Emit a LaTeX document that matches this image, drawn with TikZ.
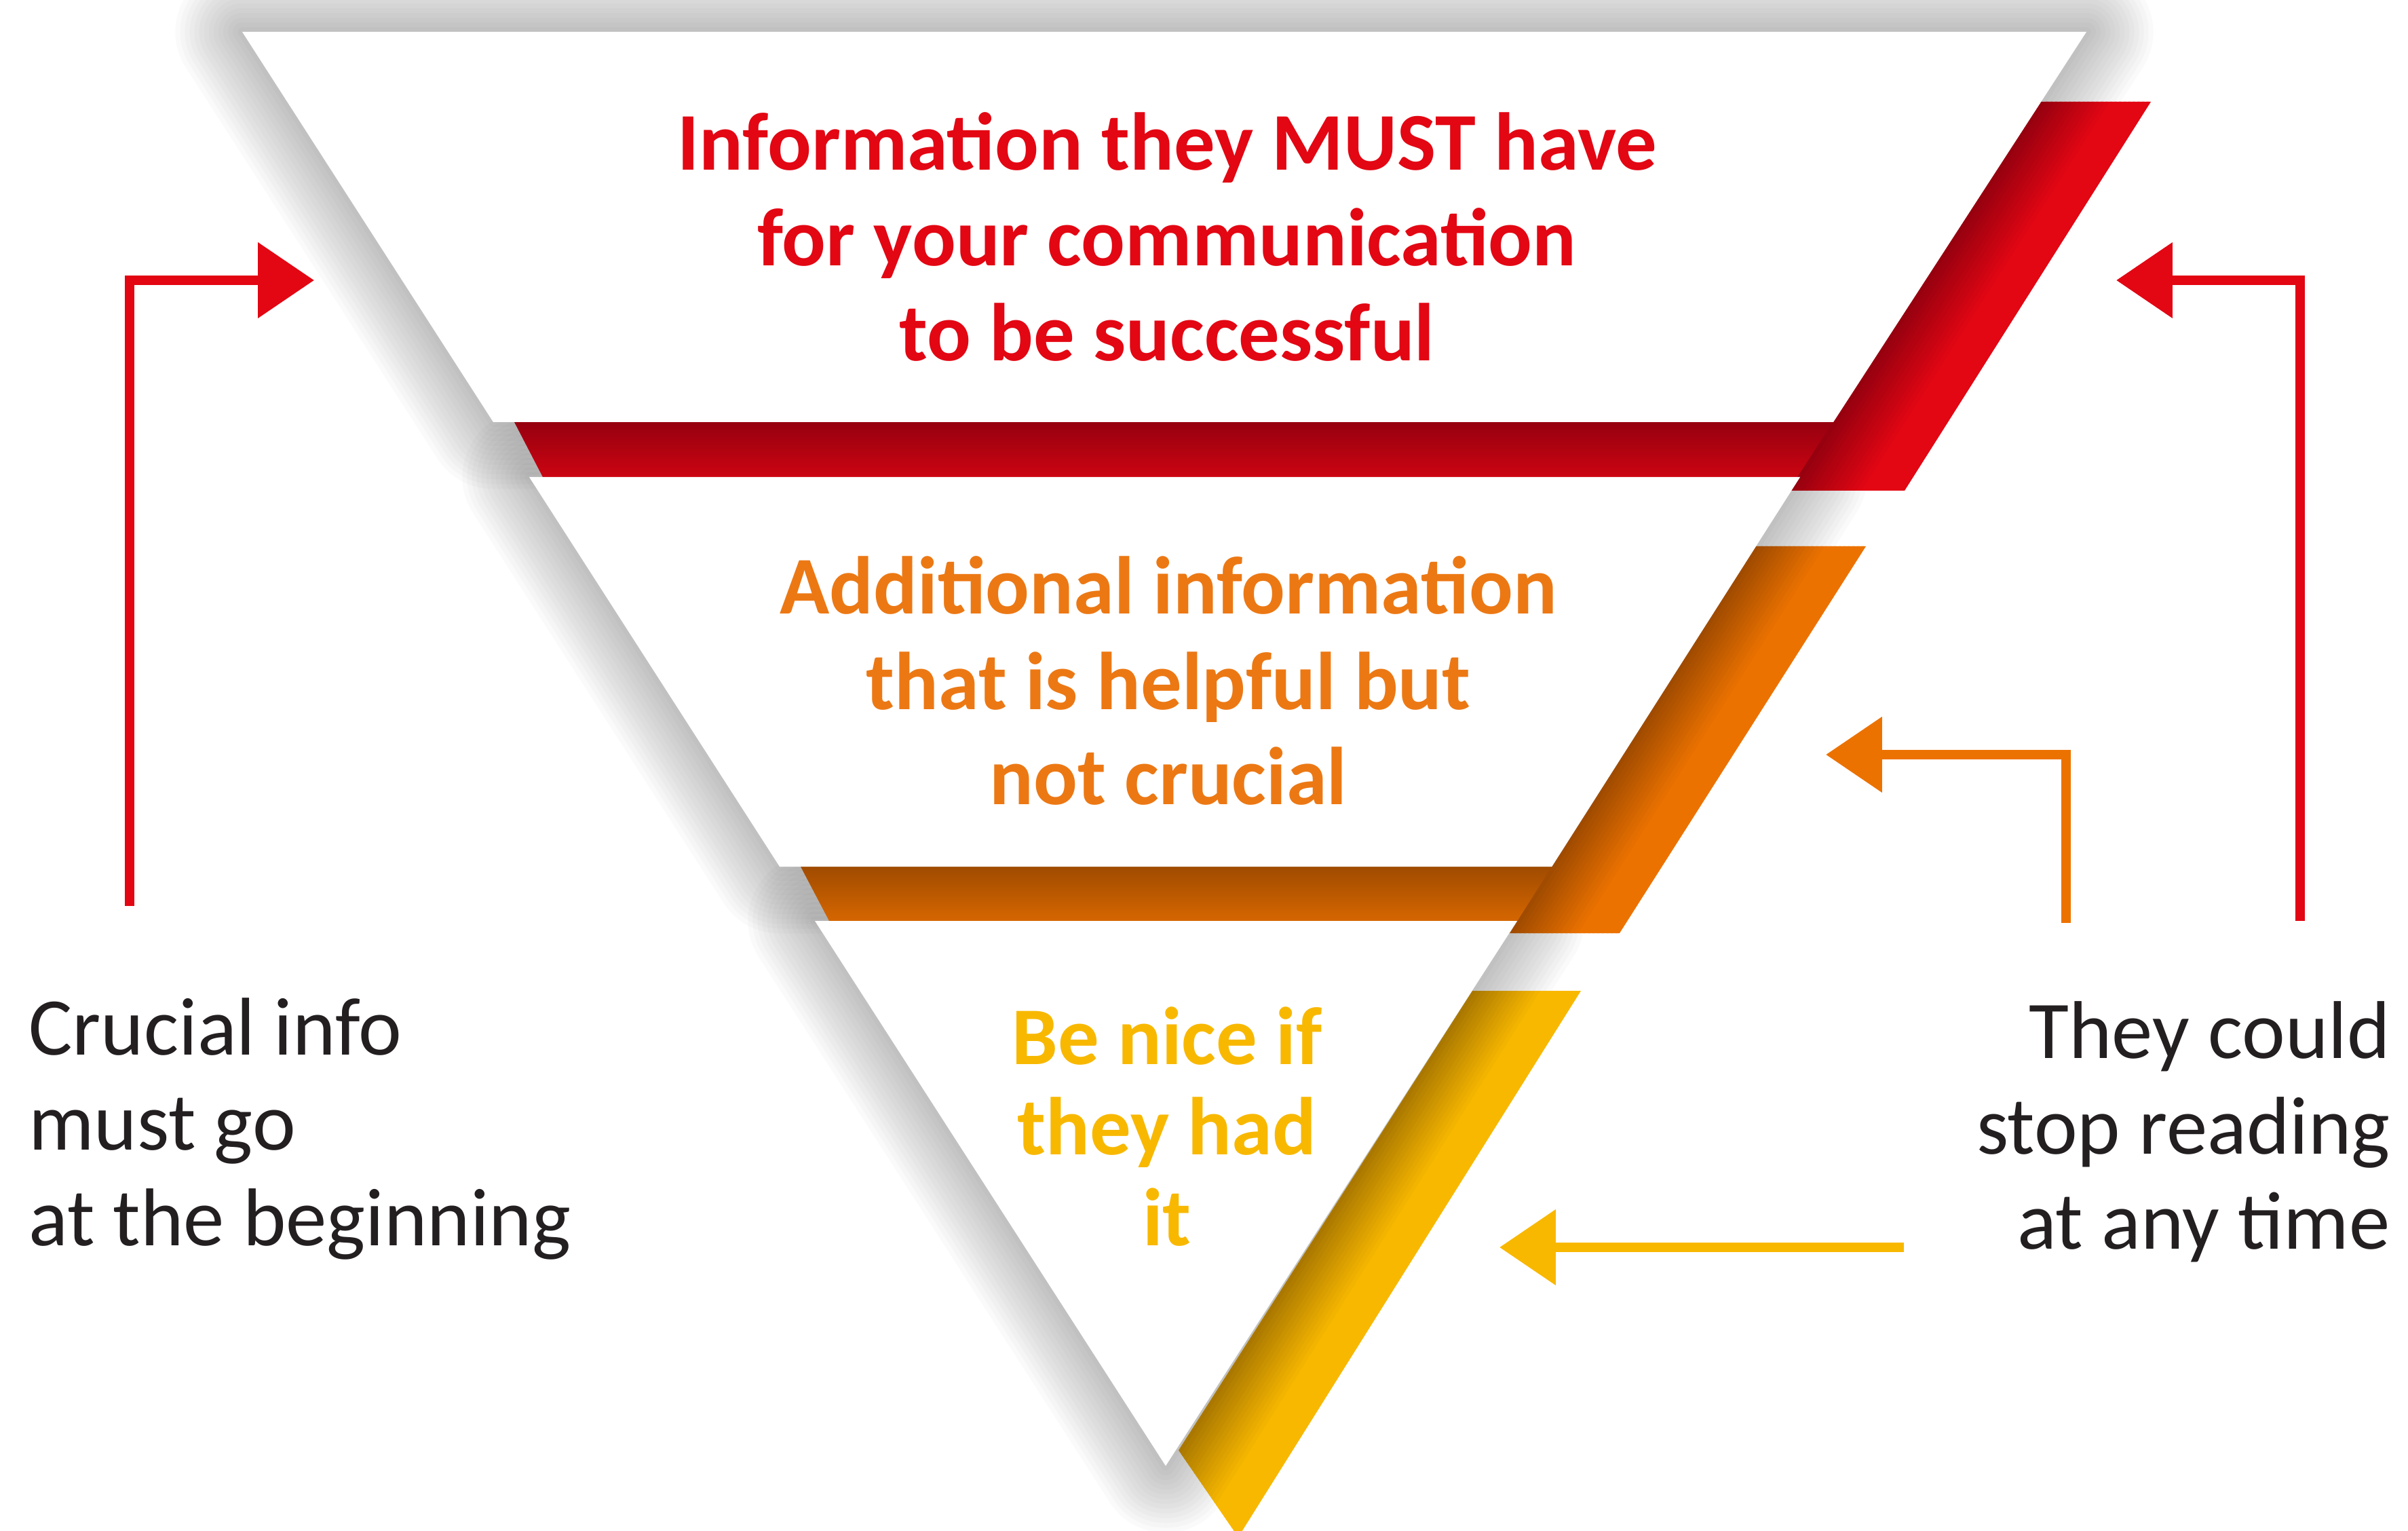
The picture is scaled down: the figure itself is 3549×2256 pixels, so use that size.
\documentclass[tikz,border=0pt]{standalone}
\usepackage{fontspec}
\setmainfont{Carlito}
\usetikzlibrary{arrows.meta,calc}

\definecolor{mustred}{RGB}{227,6,19}
\definecolor{mustdark}{RGB}{150,0,15}
\definecolor{helporange}{RGB}{236,114,0}
\definecolor{helpdark}{RGB}{160,75,0}
\definecolor{helptext}{RGB}{236,120,20}
\definecolor{niceyellow}{RGB}{248,184,0}
\definecolor{nicedark}{RGB}{170,120,0}
\definecolor{labelgray}{RGB}{35,31,32}

\tikzset{
  panel/.style={fill=white},
  glow/.style={black, opacity=0.018, line join=round},
  bandtext/.style={font=\bfseries\fontsize{17.2}{20}\selectfont, align=center, inner sep=0pt},
  sidetext/.style={font=\fontsize{17.2}{20}\selectfont, text=labelgray, inner sep=0pt},
  pointer/.style={-{Triangle[length=11.8pt,width=15.4pt]}, line width=2.1pt},
}

% diagonal band, shaded from its left edge (dark) to its right edge (bright)
% #1 dark, #2 bright, #3 top left, #4 top right, #5 bottom right, #6 bottom left
\newcommand{\bandslices}[6]{%
  \foreach \k in {0,...,23} {
    \pgfmathsetmacro{\a}{\k/24}
    \pgfmathsetmacro{\b}{min(1,(\k+1.6)/24)}
    \pgfmathsetmacro{\p}{min(100,\k*100/15)}
    \fill[#2!\p!#1] ($(#3)!\a!(#4)$) -- ($(#3)!\b!(#4)$)
      -- ($(#6)!\b!(#5)$) -- ($(#6)!\a!(#5)$) -- cycle;
  }%
}

\begin{document}
\begin{tikzpicture}[x=0.005cm, y=-0.005cm]
  \useasboundingbox (0,0) rectangle (3549,2256);

  % Corners of the three white panels
  \coordinate (p1a) at (357,47);   \coordinate (p1b) at (3075,47);
  \coordinate (p1c) at (2702,622); \coordinate (p1d) at (727,622);
  \coordinate (p2a) at (780,703);  \coordinate (p2b) at (2653,703);
  \coordinate (p2c) at (2287,1277);\coordinate (p2d) at (1149,1277);
  \coordinate (p3a) at (1201,1357);\coordinate (p3b) at (2236,1357);
  \coordinate (p3c) at (1718,2160);

  % Corners of the coloured diagonal bands
  \coordinate (r1) at (3008,150);  \coordinate (r2) at (3170,150);
  \coordinate (r3) at (2807,723);  \coordinate (r4) at (2636,723);
  \coordinate (o1) at (2588,805);  \coordinate (o2) at (2750,805);
  \coordinate (o3) at (2387,1375); \coordinate (o4) at (2225,1375);
  \coordinate (y1) at (2170,1460); \coordinate (y2) at (2330,1460);
  \coordinate (y3) at (1825,2265); \coordinate (y4) at (1737,2137);

  % Soft shadows round the panels
  \foreach \w in {2,4,...,28} {
    \draw[glow, line width={\w*1pt}] (p1a) -- (p1b) -- (p1c) -- (p1d) -- cycle;
    \draw[glow, line width={\w*1pt}] (p2a) -- (p2b) -- (p2c) -- (p2d) -- cycle;
    \draw[glow, line width={\w*1pt}] (p3a) -- (p3b) -- (p3c) -- cycle;
  }

  % Horizontal bands
  \shade[top color=mustdark, bottom color=mustred!70!mustdark]
    (758,622) -- (2730,622) -- (2680,703) -- (800,703) -- cycle;
  \shade[top color=helpdark, bottom color=helporange!70!helpdark]
    (1180,1277) -- (2310,1277) -- (2260,1357) -- (1222,1357) -- cycle;

  % Diagonal bands
  \bandslices{mustdark}{mustred}{r1}{r2}{r3}{r4}
  \bandslices{helpdark}{helporange}{o1}{o2}{o3}{o4}
  \bandslices{nicedark}{niceyellow}{y1}{y2}{y3}{y4}

  % White panels
  \fill[panel] (p1a) -- (p1b) -- (p1c) -- (p1d) -- cycle;
  \fill[panel] (p2a) -- (p2b) -- (p2c) -- (p2d) -- cycle;
  \fill[panel] (p3a) -- (p3b) -- (p3c) -- cycle;

  % Texts
  \node[bandtext, text=mustred] (must) at (1720,349)
    {Information they MUST have\\for your communication\\to be successful};
  \node[bandtext, text=helptext] (helpful) at (1722,1003)
    {Additional information\\that is helpful but\\not crucial};
  \node[bandtext, text=niceyellow, font=\bfseries\fontsize{17.2}{19}\selectfont] (nice) at (1720,1660)
    {Be nice if\\they had\\it};
  \node[sidetext, anchor=west, align=left] (crucial) at (41,1663)
    {Crucial info\\must go\\at the beginning};
  \node[sidetext, anchor=east, align=right] (anytime) at (3524,1668)
    {They could\\stop reading\\at any time};

  % Arrows
  \coordinate (crucial-foot) at (191,1335);  \coordinate (crucial-tip) at (463,413);
  \coordinate (anytime-foot) at (3390,1357); \coordinate (must-tip) at (3119,413);
  \coordinate (helpful-foot) at (3045,1360); \coordinate (helpful-tip) at (2691,1112);
  \coordinate (nice-foot) at (2806,1838);    \coordinate (nice-tip) at (2210,1838);

  \draw[pointer, mustred] (crucial-foot) |- (crucial-tip);
  \draw[pointer, mustred] (anytime-foot) |- (must-tip);
  \draw[pointer, helporange] (helpful-foot) |- (helpful-tip);
  \draw[pointer, niceyellow] (nice-foot) -- (nice-tip);
\end{tikzpicture}
\end{document}
